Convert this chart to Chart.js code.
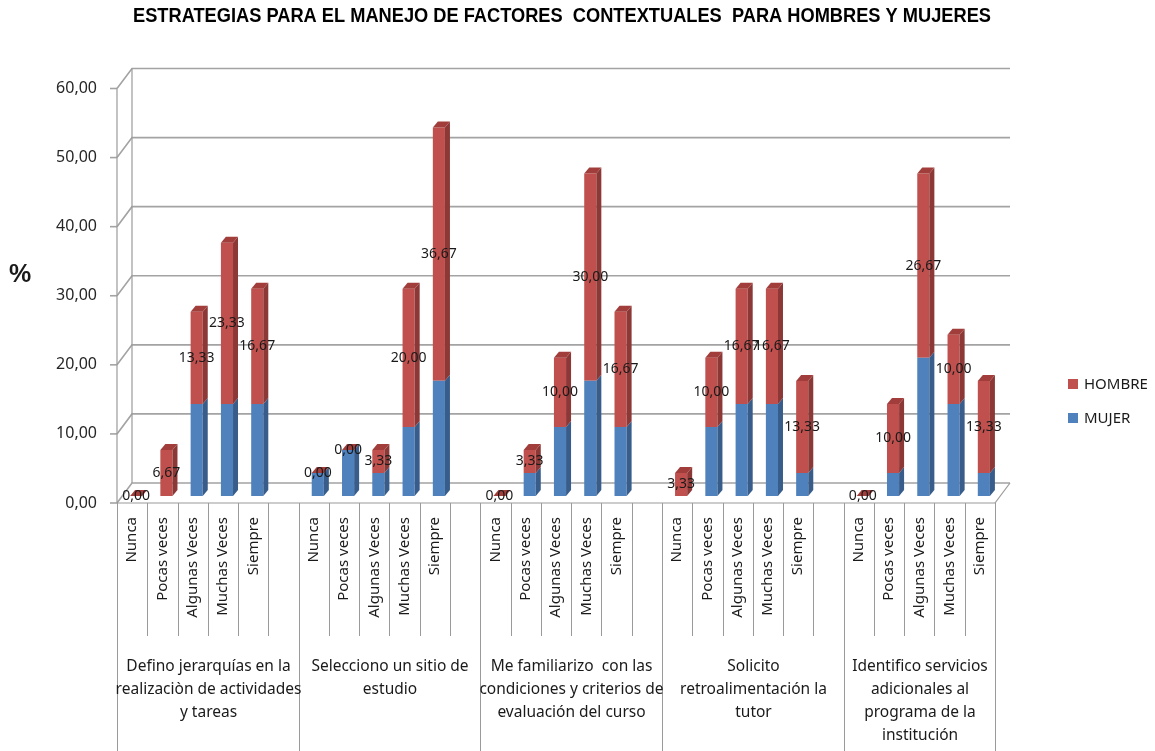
<!DOCTYPE html>
<html><head><meta charset="utf-8">
<script src="https://cdn.jsdelivr.net/npm/chart.js@4.4.1/dist/chart.umd.min.js"></script>
<style>html,body{margin:0;padding:0;background:#fff;}canvas{display:block;}</style>
</head><body>
<canvas id="c" width="1155" height="751"></canvas>
<script>
const titleText = 'ESTRATEGIAS PARA EL MANEJO DE FACTORES  CONTEXTUALES  PARA HOMBRES Y MUJERES';
const levels = ['Nunca', 'Pocas veces', 'Algunas Veces', 'Muchas Veces', 'Siempre'];
const groupLabels = [
  ['Defino jerarquías en la', 'realizaciòn de actividades', 'y tareas'],
  ['Selecciono un sitio de', 'estudio'],
  ['Me familiarizo  con las', 'condiciones y criterios de', 'evaluación del curso'],
  ['Solicito', 'retroalimentación la', 'tutor'],
  ['Identifico servicios', 'adicionales al', 'programa de la', 'institución']
];
const mujer  = [0, 0, 13.33, 13.33, 13.33,   3.33, 6.67, 3.33, 10, 16.67,   0, 3.33, 10, 16.67, 10,   0, 10, 13.33, 13.33, 3.33,   0, 3.33, 20, 13.33, 3.33];
const hombre = [0, 6.67, 13.33, 23.33, 16.67,   0, 0, 3.33, 20, 36.67,   0, 3.33, 10, 30, 16.67,   3.33, 10, 16.67, 16.67, 13.33,   0, 10, 26.67, 10, 13.33];
const yTicks = [0, 10, 20, 30, 40, 50, 60];
const seriesNames = ['MUJER', 'HOMBRE'];

// build slots (blank slot between groups)
const slotLabels = [], slotM = [], slotH = [];
groupLabels.forEach((g, gi) => {
  levels.forEach((l, li) => {
    slotLabels.push(l); slotM.push(mujer[gi * 5 + li]); slotH.push(hombre[gi * 5 + li]);
  });
  if (gi < groupLabels.length - 1) { slotLabels.push(''); slotM.push(null); slotH.push(null); }
});
const nSlots = slotLabels.length;

const fmt = v => v.toFixed(2).replace('.', ',');
const FONT = "'Noto Sans', 'Open Sans', sans-serif";
const FX = -4, FY = 7, BX = 11, BY = -13, DX = 5, DY = 6;
const colors = {
  MUJER: { front: '#4F81BD', side: '#385D8A', top: '#5A8AC6' },
  HOMBRE: { front: '#C0504D', side: '#8C3836', top: '#A13E3B' }
};

function poly(ctx, pts, fill) {
  ctx.beginPath(); ctx.moveTo(pts[0][0], pts[0][1]);
  for (let i = 1; i < pts.length; i++) ctx.lineTo(pts[i][0], pts[i][1]);
  ctx.closePath(); ctx.fillStyle = fill; ctx.fill();
}
function line(ctx, x1, y1, x2, y2) { ctx.beginPath(); ctx.moveTo(x1, y1); ctx.lineTo(x2, y2); ctx.stroke(); }

const deco = {
  id: 'deco',
  beforeDatasetsDraw(chart) {
    const ctx = chart.ctx, y = chart.scales.y, a = chart.chartArea;
    ctx.save();
    ctx.strokeStyle = '#a3a3a3'; ctx.lineWidth = 1.6;
    yTicks.forEach(v => {
      const py = y.getPixelForValue(v);
      ctx.beginPath();
      ctx.moveTo(a.left + FX, py + FY); ctx.lineTo(a.left + BX, py + BY); ctx.lineTo(a.right + BX, py + BY);
      ctx.stroke();
      line(ctx, a.left + FX - 7, py + FY, a.left + FX, py + FY);
    });
    const y0 = y.getPixelForValue(0), yT = y.getPixelForValue(60);
    ctx.lineWidth = 1.2; ctx.strokeStyle = '#9a9a9a';
    line(ctx, a.left + FX, yT + FY, a.left + FX, y0 + FY);
    line(ctx, a.left + BX, yT + BY, a.left + BX, y0 + BY);
    line(ctx, a.left + FX, y0 + FY, a.right + FX, y0 + FY);
    line(ctx, a.right + FX, y0 + FY, a.right + BX, y0 + BY);
    ctx.restore();
  },
  afterDatasetsDraw(chart) {
    const ctx = chart.ctx;
    ctx.save();
    chart.data.datasets.forEach((ds, di) => {
      const c = colors[ds.label];
      chart.getDatasetMeta(di).data.forEach((el, i) => {
        if (ds.data[i] === null) return;
        const p = el.getProps(['x', 'y', 'base', 'width'], true);
        const x0 = p.x - p.width / 2, x1 = p.x + p.width / 2;
        const top = Math.min(p.y, p.base), bot = Math.max(p.y, p.base);
        poly(ctx, [[x1, top], [x1 + DX, top - DY], [x1 + DX, bot - DY], [x1, bot]], c.side);
        if (ds.label === 'HOMBRE') {
          poly(ctx, [[x0, top], [x1, top], [x1 + DX, top - DY], [x0 + DX, top - DY]], c.top);
        }
      });
    });
    // data labels (HOMBRE values)
    const hi = chart.data.datasets.findIndex(d => d.label === 'HOMBRE');
    const ds = chart.data.datasets[hi];
    ctx.font = '14px ' + FONT; ctx.fillStyle = '#1a1a1a';
    ctx.textAlign = 'center'; ctx.textBaseline = 'middle';
    chart.getDatasetMeta(hi).data.forEach((el, i) => {
      if (ds.data[i] === null) return;
      const p = el.getProps(['x', 'y', 'base'], true);
      ctx.fillText(fmt(ds.data[i]), p.x, (p.y + p.base) / 2);
    });
    ctx.restore();
  },
  afterDraw(chart) {
    const ctx = chart.ctx, x = chart.scales.x, y = chart.scales.y, a = chart.chartArea;
    const y0 = y.getPixelForValue(0) + FY;
    const sw = (a.right - a.left) / nSlots;
    ctx.save();
    // title (condensed bold)
    ctx.font = "bold 19.5px 'Liberation Sans', Arial, sans-serif";
    ctx.fillStyle = '#000'; ctx.textAlign = 'center'; ctx.textBaseline = 'middle';
    const tw = ctx.measureText(titleText).width;
    ctx.save();
    ctx.translate(562, 17);
    ctx.scale(858 / tw, 1);
    ctx.fillText(titleText, 0, 0);
    ctx.restore();

    ctx.strokeStyle = '#9a9a9a'; ctx.lineWidth = 1;
    const bounds = [];
    for (let i = 0; i <= nSlots; i++) {
      const bx = Math.round(x.getPixelForValue(Math.min(i, nSlots - 1)) + (i === nSlots ? sw / 2 : -sw / 2) + FX) + 0.5;
      bounds.push(bx);
      const isGroup = (i % 6 === 0) || i === nSlots;
      line(ctx, bx, y0, bx, isGroup ? 751 : 636);
    }
    // group labels
    ctx.font = '15.5px ' + FONT; ctx.fillStyle = '#1a1a1a';
    ctx.textAlign = 'center'; ctx.textBaseline = 'middle';
    groupLabels.forEach((lines, gi) => {
      const s = gi * 6, e = Math.min(gi * 6 + 6, nSlots);
      const cx = (bounds[s] + bounds[e]) / 2;
      lines.forEach((t, k) => ctx.fillText(t, cx, 667 + k * 23));
    });
    // % axis title
    ctx.font = "bold 25px 'Liberation Sans', Arial, sans-serif";
    ctx.fillText('%', 20, 275);
    // legend
    ctx.font = '15px ' + FONT; ctx.textAlign = 'left';
    [['HOMBRE', 384], ['MUJER', 418]].forEach(([n, ly]) => {
      ctx.fillStyle = colors[n].front; ctx.fillRect(1068, ly - 5, 10, 10);
      ctx.fillStyle = '#1a1a1a'; ctx.fillText(n, 1084, ly + 1);
    });
    ctx.restore();
  }
};

new Chart(document.getElementById('c'), {
  type: 'bar',
  data: {
    labels: slotLabels,
    datasets: [
      { label: seriesNames[0], data: slotM, backgroundColor: colors.MUJER.front, stack: 's' },
      { label: seriesNames[1], data: slotH, backgroundColor: colors.HOMBRE.front, stack: 's' }
    ]
  },
  options: {
    responsive: false, animation: false, devicePixelRatio: 1,
    layout: { padding: { left: 0, right: 156, top: 81.5, bottom: 0 } },
    categoryPercentage: 1, barPercentage: 0.4,
    plugins: {
      legend: { display: false },
      tooltip: { enabled: false },
      title: { display: false }
    },
    scales: {
      x: {
        stacked: true,
        grid: { display: false, drawTicks: false }, border: { display: false },
        ticks: { autoSkip: false, maxRotation: 90, minRotation: 90, padding: 21, labelOffset: -4,
                 color: '#1a1a1a', font: { family: FONT, size: 15 } },
        afterFit: s => { s.height = 255; }
      },
      y: {
        stacked: true, min: 0, max: 60,
        grid: { display: false, drawTicks: false }, border: { display: false },
        ticks: { stepSize: 10, padding: 24, labelOffset: 7, color: '#262626',
                 font: { family: FONT, size: 16 }, callback: v => fmt(v) },
        afterFit: s => { s.width = 121; }
      }
    }
  },
  plugins: [deco]
});
</script>
</body></html>
